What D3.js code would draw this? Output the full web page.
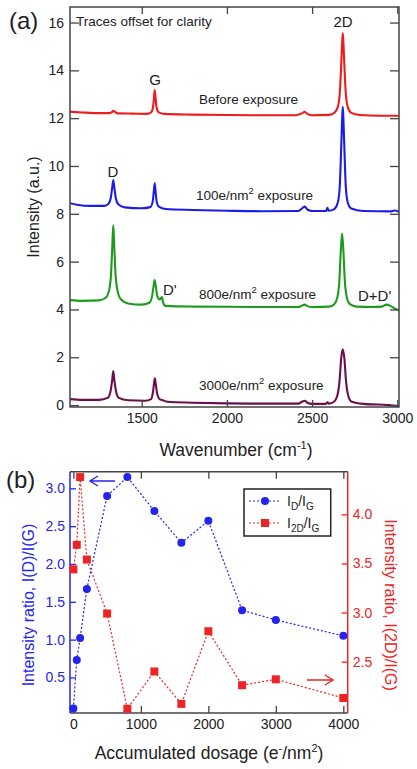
<!DOCTYPE html>
<html>
<head>
<meta charset="utf-8">
<script src="https://cdn.jsdelivr.net/npm/d3@7"></script>
<style>
  body { margin: 0; background: #fff; }
  svg { font-family: 'Liberation Sans', Arial, sans-serif; }
</style>
</head>
<body>
<div id="chart"></div>
<script>
// panel (a): Raman spectra, [wavenumber, intensity]
const before = [[1079, 12.27], [1150, 12.24], [1250, 12.21], [1310, 12.21], [1325, 12.25], [1333, 12.31], [1345, 12.25], [1360, 12.2], [1450, 12.19], [1530, 12.18], [1555, 12.24], [1566, 12.45], [1572, 12.85], [1576, 13.18], [1581, 12.85], [1587, 12.45], [1600, 12.24], [1630, 12.18], [1800, 12.15], [2000, 12.13], [2200, 12.12], [2400, 12.12], [2440, 12.2], [2457, 12.27], [2472, 12.18], [2500, 12.12], [2600, 12.14], [2630, 12.22], [2650, 12.45], [2662, 13.0], [2670, 14.1], [2676, 15.1], [2680, 15.55], [2684, 15.1], [2690, 14.1], [2698, 13.0], [2710, 12.45], [2730, 12.22], [2780, 12.13], [2900, 12.1], [3010, 12.1]]
const dose100 = [[1079, 8.44], [1120, 8.38], [1200, 8.33], [1280, 8.33], [1305, 8.42], [1318, 8.65], [1326, 9.05], [1333, 9.41], [1340, 9.05], [1348, 8.65], [1362, 8.4], [1400, 8.27], [1500, 8.23], [1550, 8.28], [1564, 8.5], [1571, 8.95], [1576, 9.28], [1581, 8.95], [1588, 8.5], [1600, 8.3], [1640, 8.2], [1800, 8.16], [2000, 8.13], [2200, 8.11], [2420, 8.12], [2440, 8.22], [2457, 8.3], [2472, 8.18], [2500, 8.12], [2582, 8.12], [2590, 8.25], [2597, 8.13], [2630, 8.2], [2650, 8.45], [2662, 9.1], [2670, 10.6], [2676, 11.9], [2680, 12.48], [2684, 11.9], [2690, 10.6], [2698, 9.1], [2710, 8.45], [2730, 8.22], [2800, 8.12], [2960, 8.1], [2985, 8.14], [3010, 8.08]]
const dose800 = [[1079, 4.39], [1150, 4.36], [1250, 4.38], [1290, 4.5], [1310, 4.85], [1320, 5.5], [1327, 6.6], [1333, 7.53], [1339, 6.6], [1346, 5.5], [1356, 4.85], [1375, 4.45], [1420, 4.25], [1500, 4.2], [1545, 4.28], [1562, 4.6], [1570, 5.0], [1576, 5.23], [1582, 5.0], [1592, 4.55], [1605, 4.42], [1614, 4.48], [1619, 4.52], [1625, 4.3], [1640, 4.15], [1800, 4.12], [2000, 4.11], [2200, 4.1], [2420, 4.1], [2440, 4.16], [2457, 4.2], [2472, 4.14], [2500, 4.1], [2600, 4.12], [2630, 4.22], [2648, 4.5], [2660, 5.2], [2668, 6.4], [2676, 7.18], [2684, 6.4], [2692, 5.2], [2704, 4.5], [2722, 4.22], [2760, 4.12], [2850, 4.1], [2910, 4.12], [2935, 4.2], [2960, 4.15], [2990, 4.02], [3010, 3.97]]
const dose3000 = [[1079, 0.25], [1150, 0.22], [1250, 0.22], [1300, 0.3], [1316, 0.55], [1326, 1.0], [1333, 1.42], [1340, 1.0], [1350, 0.55], [1366, 0.3], [1420, 0.2], [1520, 0.18], [1555, 0.25], [1566, 0.55], [1572, 0.9], [1577, 1.12], [1582, 0.9], [1590, 0.5], [1605, 0.25], [1625, 0.2], [1650, 0.14], [1800, 0.1], [2000, 0.07], [2200, 0.06], [2420, 0.06], [2440, 0.14], [2457, 0.18], [2472, 0.1], [2500, 0.05], [2582, 0.05], [2590, 0.12], [2598, 0.06], [2630, 0.15], [2650, 0.45], [2662, 1.1], [2670, 1.9], [2680, 2.33], [2690, 1.9], [2698, 1.1], [2710, 0.45], [2730, 0.15], [2800, 0.05], [2950, 0.0], [3010, -0.04]]
const spectra = [
  { data: before, color: '#ee1c1c' },
  { data: dose100, color: '#1c1ce8' },
  { data: dose800, color: '#1f9a1f' },
  { data: dose3000, color: '#6a0f4c' }
]
const wnTicks = [1500, 2000, 2500, 3000]
const intTicks = [0, 2, 4, 6, 8, 10, 12, 14, 16]

// panel (b): intensity ratios vs dose
const dosage = [0, 50, 100, 200, 500, 800, 1200, 1600, 2000, 2500, 3000, 4000]
const ratioDG = [0.09, 0.73, 1.02, 1.67, 2.9, 3.15, 2.7, 2.28, 2.57, 1.39, 1.26, 1.05]
const ratio2DG = [3.44, 3.69, 4.38, 3.54, 2.99, 2.02, 2.4, 2.07, 2.81, 2.26, 2.32, 2.13]
const doseTicks = [0, 1000, 2000, 3000, 4000]
const leftTicks = [0.5, 1.0, 1.5, 2.0, 2.5, 3.0]
const rightTicks = [2.5, 3.0, 3.5, 4.0]

const width = 417
const height = 769
const blue = '#2424ee'
const red = '#ee2424'
const frameCol = '#444'

const svg = d3.select('#chart')
  .append('svg')
  .attr('width', width)
  .attr('height', height)

const defs = svg.append('defs')
defs.append('clipPath').attr('id', 'clipA')
  .append('rect').attr('x', 70).attr('y', 7).attr('width', 329).attr('height', 400)

// ---------- (a)
const xA = d3.scaleLinear([1079, 3010], [70, 399])
const yA = d3.scaleLinear([-0.08, 16.65], [407, 7])

const gA = svg.append('g')

const line = d3.line().x(d => xA(d[0])).y(d => yA(d[1])).curve(d3.curveMonotoneX)
gA.append('g').attr('clip-path', 'url(#clipA)')
  .selectAll('path').data(spectra).enter().append('path')
  .attr('d', d => line(d.data))
  .attr('fill', 'none')
  .attr('stroke', d => d.color)
  .attr('stroke-width', 2.1)

function styleAxis (g, col) {
  g.select('.domain').remove()
  g.selectAll('line').attr('stroke', col).attr('stroke-width', 1.3)
  g.selectAll('text').attr('fill', col === frameCol ? '#222' : col).style('font-size', '14px')
  g.selectAll('text').filter(function () { return this.textContent === '' }).remove()
  g.attr('font-family', null)
}

gA.append('g').attr('transform', 'translate(0,407)')
  .call(d3.axisBottom(xA).tickValues(wnTicks).tickFormat(d3.format('d')).tickSize(-7).tickPadding(6))
  .call(g => styleAxis(g, frameCol))
gA.append('g').attr('transform', 'translate(0,7)')
  .call(d3.axisTop(xA).tickValues(wnTicks).tickFormat('').tickSize(-7))
  .call(g => styleAxis(g, frameCol))
gA.append('g').attr('transform', 'translate(70,0)')
  .call(d3.axisLeft(yA).tickValues(intTicks).tickSize(-9).tickPadding(6))
  .call(g => styleAxis(g, frameCol))
gA.append('g').attr('transform', 'translate(399,0)')
  .call(d3.axisRight(yA).tickValues(intTicks).tickFormat('').tickSize(-9))
  .call(g => styleAxis(g, frameCol))

gA.append('rect')
  .attr('x', 70).attr('y', 7).attr('width', 329).attr('height', 400)
  .attr('fill', 'none').attr('stroke', frameCol).attr('stroke-width', 1.5)

// text with sub/superscripts: parts are strings or {t, dy, fs}
function label (g, x, y, parts, opts) {
  const t = g.append('text').attr('x', x).attr('y', y)
    .attr('text-anchor', opts.anchor || 'start')
    .attr('fill', opts.color || '#222')
    .style('font-size', opts.size + 'px')
  if (opts.rotate) t.attr('transform', `rotate(${opts.rotate},${x},${y})`)
  let shift = 0
  parts.forEach(p => {
    if (typeof p === 'string') {
      t.append('tspan').attr('dy', -shift).text(p)
      shift = 0
    } else {
      t.append('tspan').attr('dy', p.dy - shift).style('font-size', p.fs + 'px').text(p.t)
      shift = p.dy
    }
  })
  return t
}

label(svg, 9, 29, ['(a)'], { size: 24 })
label(gA, 76, 26, ['Traces offset for clarity'], { size: 13.5 })
label(gA, 343, 27, ['2D'], { size: 15, anchor: 'middle' })
label(gA, 155, 85, ['G'], { size: 15, anchor: 'middle' })
label(gA, 113, 177, ['D'], { size: 15, anchor: 'middle' })
label(gA, 163, 295, ["D'"], { size: 15 })
label(gA, 358, 301, ["D+D'"], { size: 15 })
label(gA, 199, 104, ['Before exposure'], { size: 13.5 })
label(gA, 196, 200, ['100e/nm', { t: '2', dy: -6, fs: 9.5 }, ' exposure'], { size: 13.5 })
label(gA, 199, 299, ['800e/nm', { t: '2', dy: -6, fs: 9.5 }, ' exposure'], { size: 13.5 })
label(gA, 199, 390, ['3000e/nm', { t: '2', dy: -6, fs: 9.5 }, ' exposure'], { size: 13.5 })
label(gA, 236, 456, ['Wavenumber (cm', { t: '-1', dy: -7, fs: 11 }, ')'], { size: 17.5, anchor: 'middle' })
label(gA, 39, 207, ['Intensity (a.u.)'], { size: 16, anchor: 'middle', rotate: -90 })

// ---------- (b)
const xB = d3.scaleLinear([-50, 4065], [70, 347.7])
const yL = d3.scaleLinear([0.03, 3.22], [713, 471.7])
const yR = d3.scaleLinear([1.977, 4.435], [713, 471.7])

const gB = svg.append('g')

gB.append('g').attr('transform', 'translate(0,713)')
  .call(d3.axisBottom(xB).tickValues(doseTicks).tickFormat(d3.format('d')).tickSize(-7).tickPadding(6))
  .call(g => styleAxis(g, frameCol))
gB.append('g').attr('transform', 'translate(0,471.7)')
  .call(d3.axisTop(xB).tickValues(doseTicks).tickFormat('').tickSize(-7))
  .call(g => styleAxis(g, frameCol))
gB.append('g').attr('transform', 'translate(70,0)')
  .call(d3.axisLeft(yL).tickValues(leftTicks).tickFormat(d3.format('.1f')).tickSize(-6).tickPadding(5))
  .call(g => styleAxis(g, blue))
gB.append('g').attr('transform', 'translate(347.7,0)')
  .call(d3.axisRight(yR).tickValues(rightTicks).tickFormat(d3.format('.1f')).tickSize(-6).tickPadding(5))
  .call(g => styleAxis(g, red))

gB.append('line').attr('x1', 70).attr('x2', 347.7).attr('y1', 713).attr('y2', 713).attr('stroke', frameCol).attr('stroke-width', 1.5)
gB.append('line').attr('x1', 70).attr('x2', 347.7).attr('y1', 471.7).attr('y2', 471.7).attr('stroke', frameCol).attr('stroke-width', 1.5)
gB.append('line').attr('x1', 70).attr('x2', 70).attr('y1', 471.7).attr('y2', 713).attr('stroke', blue).attr('stroke-width', 1.5)
gB.append('line').attr('x1', 347.7).attr('x2', 347.7).attr('y1', 471.7).attr('y2', 713).attr('stroke', red).attr('stroke-width', 1.5)

const dgPts = dosage.map((d, i) => [d, ratioDG[i]])
const tdPts = dosage.map((d, i) => [d, ratio2DG[i]])

gB.append('path')
  .attr('d', d3.line().x(d => xB(d[0])).y(d => yR(d[1]))(tdPts))
  .attr('fill', 'none').attr('stroke', red).attr('stroke-width', 1.2).attr('stroke-dasharray', '2,2')
gB.append('path')
  .attr('d', d3.line().x(d => xB(d[0])).y(d => yL(d[1]))(dgPts))
  .attr('fill', 'none').attr('stroke', blue).attr('stroke-width', 1.2).attr('stroke-dasharray', '2,2')

gB.selectAll('rect.sq').data(tdPts).enter().append('rect')
  .attr('class', 'sq')
  .attr('x', d => xB(d[0]) - 4).attr('y', d => yR(d[1]) - 4)
  .attr('width', 8).attr('height', 8).attr('fill', red)
gB.selectAll('circle.pt').data(dgPts).enter().append('circle')
  .attr('class', 'pt')
  .attr('cx', d => xB(d[0])).attr('cy', d => yL(d[1]))
  .attr('r', 4).attr('fill', blue)

// arrows
function arrow (x1, x2, y, col) {
  const dir = Math.sign(x2 - x1)
  gB.append('path')
    .attr('d', `M${x1},${y}H${x2}M${x2 - dir * 8},${y - 5}L${x2},${y}L${x2 - dir * 8},${y + 5}`)
    .attr('fill', 'none').attr('stroke', col).attr('stroke-width', 1.4)
}
arrow(115, 90, 481, blue)
arrow(307, 333, 680, red)

// legend
const leg = gB.append('g')
leg.append('rect').attr('x', 244).attr('y', 489).attr('width', 86.7).attr('height', 47)
  .attr('fill', '#fff').attr('stroke', '#222').attr('stroke-width', 1.5)
leg.append('line').attr('x1', 249).attr('x2', 280).attr('y1', 501).attr('y2', 501)
  .attr('stroke', blue).attr('stroke-width', 1.2).attr('stroke-dasharray', '2,2')
leg.append('circle').attr('cx', 265).attr('cy', 501).attr('r', 4).attr('fill', blue)
leg.append('line').attr('x1', 249).attr('x2', 280).attr('y1', 523).attr('y2', 523)
  .attr('stroke', red).attr('stroke-width', 1.2).attr('stroke-dasharray', '2,2')
leg.append('rect').attr('x', 261).attr('y', 519).attr('width', 8).attr('height', 8).attr('fill', red)
label(leg, 287, 506, ['I', { t: 'D', dy: 4, fs: 10 }, '/I', { t: 'G', dy: 4, fs: 10 }], { size: 14 })
label(leg, 287, 528, ['I', { t: '2D', dy: 4, fs: 10 }, '/I', { t: 'G', dy: 4, fs: 10 }], { size: 14 })

label(svg, 6, 488, ['(b)'], { size: 24 })
label(gB, 34, 605, ['Intensity ratio, I(D)/I(G)'], { size: 16, anchor: 'middle', rotate: -90, color: blue })
label(gB, 385, 605, ['Intensity ratio, I(2D)/I(G)'], { size: 16, anchor: 'middle', rotate: 90, color: red })
label(gB, 209, 759, ['Accumulated dosage (e', { t: '-', dy: -7, fs: 11 }, '/nm', { t: '2', dy: -7, fs: 11 }, ')'], { size: 17.5, anchor: 'middle' })
</script>
</body>
</html>
